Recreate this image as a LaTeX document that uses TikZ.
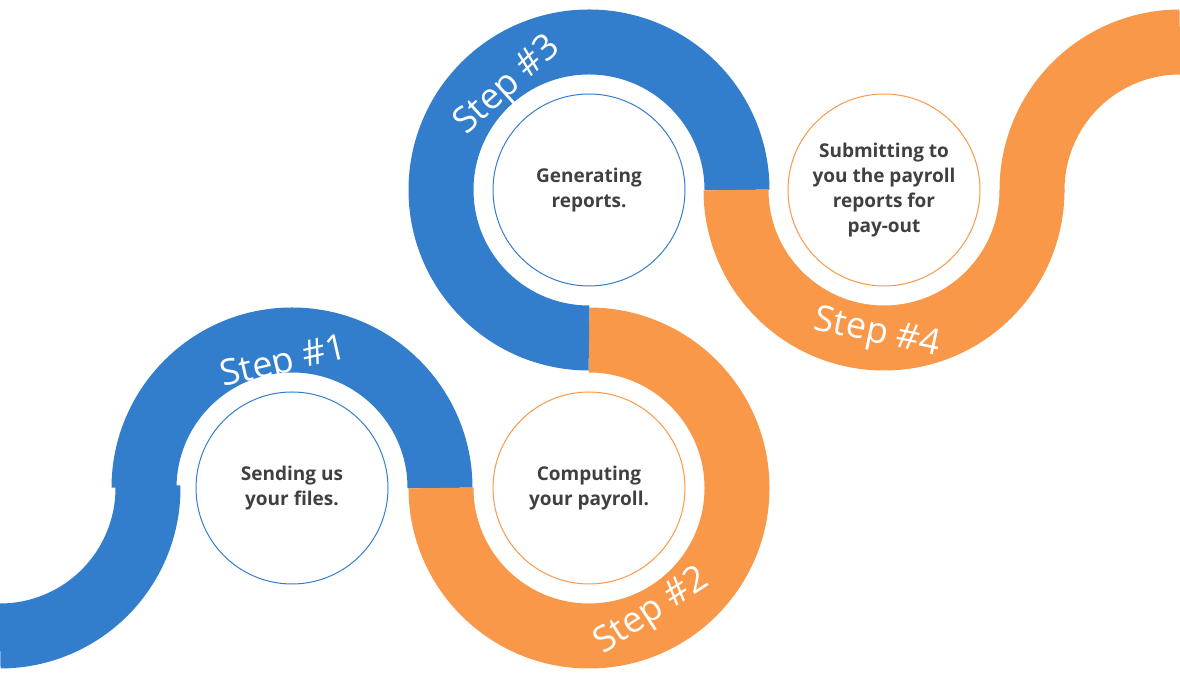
\documentclass[tikz,border=0pt]{standalone}
\usepackage{fontspec}
\setmainfont{Open Sans}
\definecolor{bl}{HTML}{337ECC}
\definecolor{or}{HTML}{F89848}
\definecolor{tx}{HTML}{404040}
\begin{document}
\begin{tikzpicture}[x=1pt,y=1pt,
 band/.style={line width=65pt,line cap=butt},
 ring/.style={circle,draw,line width=1pt,minimum size=192pt,inner sep=0pt,align=center,text=tx,font=\fontsize{19}{25}\selectfont\bfseries},
 steplbl/.style={text=white,font=\fontsize{36}{40}\selectfont}]
\useasboundingbox (0,0) rectangle (1180,684);
% bands
\draw[band,bl] (0,196) ++(270:148) arc (270:361:148);
\draw[band,bl] (440,196) arc (0:180:148);
\draw[band,or] (441,196) arc (180:450:148);
\draw[band,bl] (737,494) arc (0:270:148);
\draw[band,or] (736,494) arc (180:360:148);
\draw[band,or] (1180,494) ++(181:148) arc (181:90:148);
% circles
\node[ring,draw=bl] (c1) at (292,196) {Sending us\\your files.};
\node[ring,draw=or] (c2) at (589,196) {Computing\\your payroll.};
\node[ring,draw=bl] (c3) at (589,494) {Generating\\reports.};
\node[ring,draw=or] (c4) at (884,494) {Submitting to\\you the payroll\\reports for\\pay-out};
% step labels
\node[steplbl,rotate=13] (s1) at (284,320) {Step \#1};
\node[steplbl,rotate=33] (s2) at (652,72) {Step \#2};
\node[steplbl,rotate=42] (s3) at (508,598) {Step \#3};
\node[steplbl,rotate=-12] (s4) at (877,350) {Step \#4};
\end{tikzpicture}
\end{document}
